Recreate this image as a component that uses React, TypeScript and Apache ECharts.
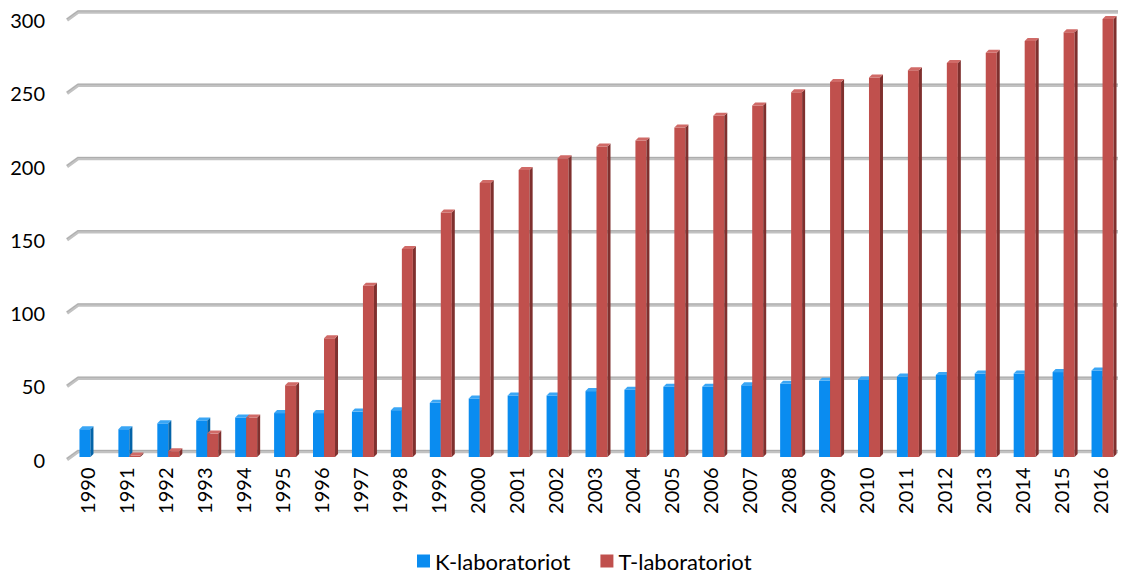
import React, { useEffect, useRef } from "react";
import * as echarts from "echarts";

const years = ["1990","1991","1992","1993","1994","1995","1996","1997","1998","1999","2000","2001","2002","2003","2004","2005","2006","2007","2008","2009","2010","2011","2012","2013","2014","2015","2016"];
const kLab = [20,20,24,26,28,31,31,32,33,38,41,43,43,46,47,49,49,50,51,53,54,56,57,58,58,59,60];
const tLab = [0,2,5,17,28,50,82,118,143,168,188,197,205,213,217,226,234,241,250,257,260,265,270,277,285,291,300];
const yTicks = [0, 50, 100, 150, 200, 250, 300];

const FONT = "Lato, 'Open Sans', sans-serif";
const DEPTH = 3;
const BACK_DX = 10;
const BACK_DY = 8;

function makeRender(offset: number, front: string, side: string, topC: string) {
  return (params: any, api: any) => {
    const v = api.value(1);
    if (!v) return null;
    const base = api.coord([api.value(0), 0]);
    const top = api.coord([api.value(0), v]);
    const w = 11;
    const d = DEPTH;
    const x0 = base[0] + offset;
    const y0 = base[1] - 2.5;
    const y1 = top[1] - 4 + d;
    return {
      type: "group",
      children: [
        { type: "rect", shape: { x: x0, y: y1, width: w, height: y0 - y1 }, style: { fill: front } },
        { type: "polygon", shape: { points: [[x0 + w, y1], [x0 + w + d, y1 - d], [x0 + w + d, y0 - d], [x0 + w, y0]] }, style: { fill: side } },
        { type: "polygon", shape: { points: [[x0, y1], [x0 + d, y1 - d], [x0 + w + d, y1 - d], [x0 + w, y1]] }, style: { fill: topC } },
      ],
    };
  };
}

function renderGrid(params: any, api: any) {
  const p = api.coord([0, api.value(1)]);
  const bw = api.size([1, 0])[0];
  const x = p[0] - bw / 2;
  const y = p[1];
  const xr = api.getWidth() - 5;
  return {
    type: "group",
    children: [
      {
        type: "polyline",
        shape: { points: [[x - 1, y], [x + BACK_DX, y - BACK_DY], [xr, y - BACK_DY]] },
        style: { stroke: "#c2c2c2", lineWidth: 3.5, fill: null },
      },
      {
        type: "polyline",
        shape: { points: [[x - 1, y - 1], [x + BACK_DX, y - BACK_DY - 1], [xr, y - BACK_DY - 1]] },
        style: { stroke: "#adadad", lineWidth: 1, fill: null },
      },
    ],
  };
}

export default function App() {
  const ref = useRef<HTMLDivElement>(null);
  useEffect(() => {
    const chart = echarts.init(ref.current!, undefined, { renderer: "svg" });
    chart.setOption({
      animation: false,
      textStyle: { fontFamily: FONT },
      grid: { left: 68, right: 4, top: 20, bottom: 118.5, containLabel: false },
      legend: {
        bottom: 1,
        left: 412,
        icon: "rect",
        itemWidth: 13,
        itemHeight: 13,
        itemGap: 30,
        textStyle: { fontSize: 22, color: "#000", fontFamily: FONT },
        data: ["K-laboratoriot", "T-laboratoriot"],
      },
      xAxis: {
        type: "category",
        data: years,
        boundaryGap: true,
        axisLine: { show: false },
        axisTick: { show: false },
        axisLabel: { rotate: 90, fontSize: 20, color: "#000", margin: 8, fontFamily: FONT },
      },
      yAxis: {
        type: "value",
        min: 0,
        max: 300,
        interval: 50,
        axisLine: { show: false },
        axisTick: { show: false },
        axisLabel: { fontSize: 20, color: "#000", margin: 23, fontFamily: FONT,
          formatter: (v: number) => (yTicks.includes(v) ? String(v) : "") },
        splitLine: { show: false },
      },
      series: [
        {
          name: "grid",
          type: "custom",
          renderItem: renderGrid,
          encode: { x: 0, y: 1 },
          data: yTicks.map((v) => [0, v]),
          silent: true,
          z: 1,
        },
        {
          name: "K-laboratoriot",
          type: "custom",
          itemStyle: { color: "#0a8cf0" },
          renderItem: makeRender(-8, "#0a8cf0", "#0464a8", "#3aa6f5"),
          encode: { x: 0, y: 1 },
          data: kLab.map((v, i) => [i, v]),
          z: 3,
        },
        {
          name: "T-laboratoriot",
          type: "custom",
          itemStyle: { color: "#c0504d" },
          renderItem: makeRender(3, "#c0504d", "#7f302e", "#d06a67"),
          encode: { x: 0, y: 1 },
          data: tLab.map((v, i) => [i, v]),
          z: 3,
        },
      ],
    });
    return () => chart.dispose();
  }, []);
  return <div ref={ref} style={{ width: 1123, height: 578, position: "absolute", left: 0, top: 0 }} />;
}
